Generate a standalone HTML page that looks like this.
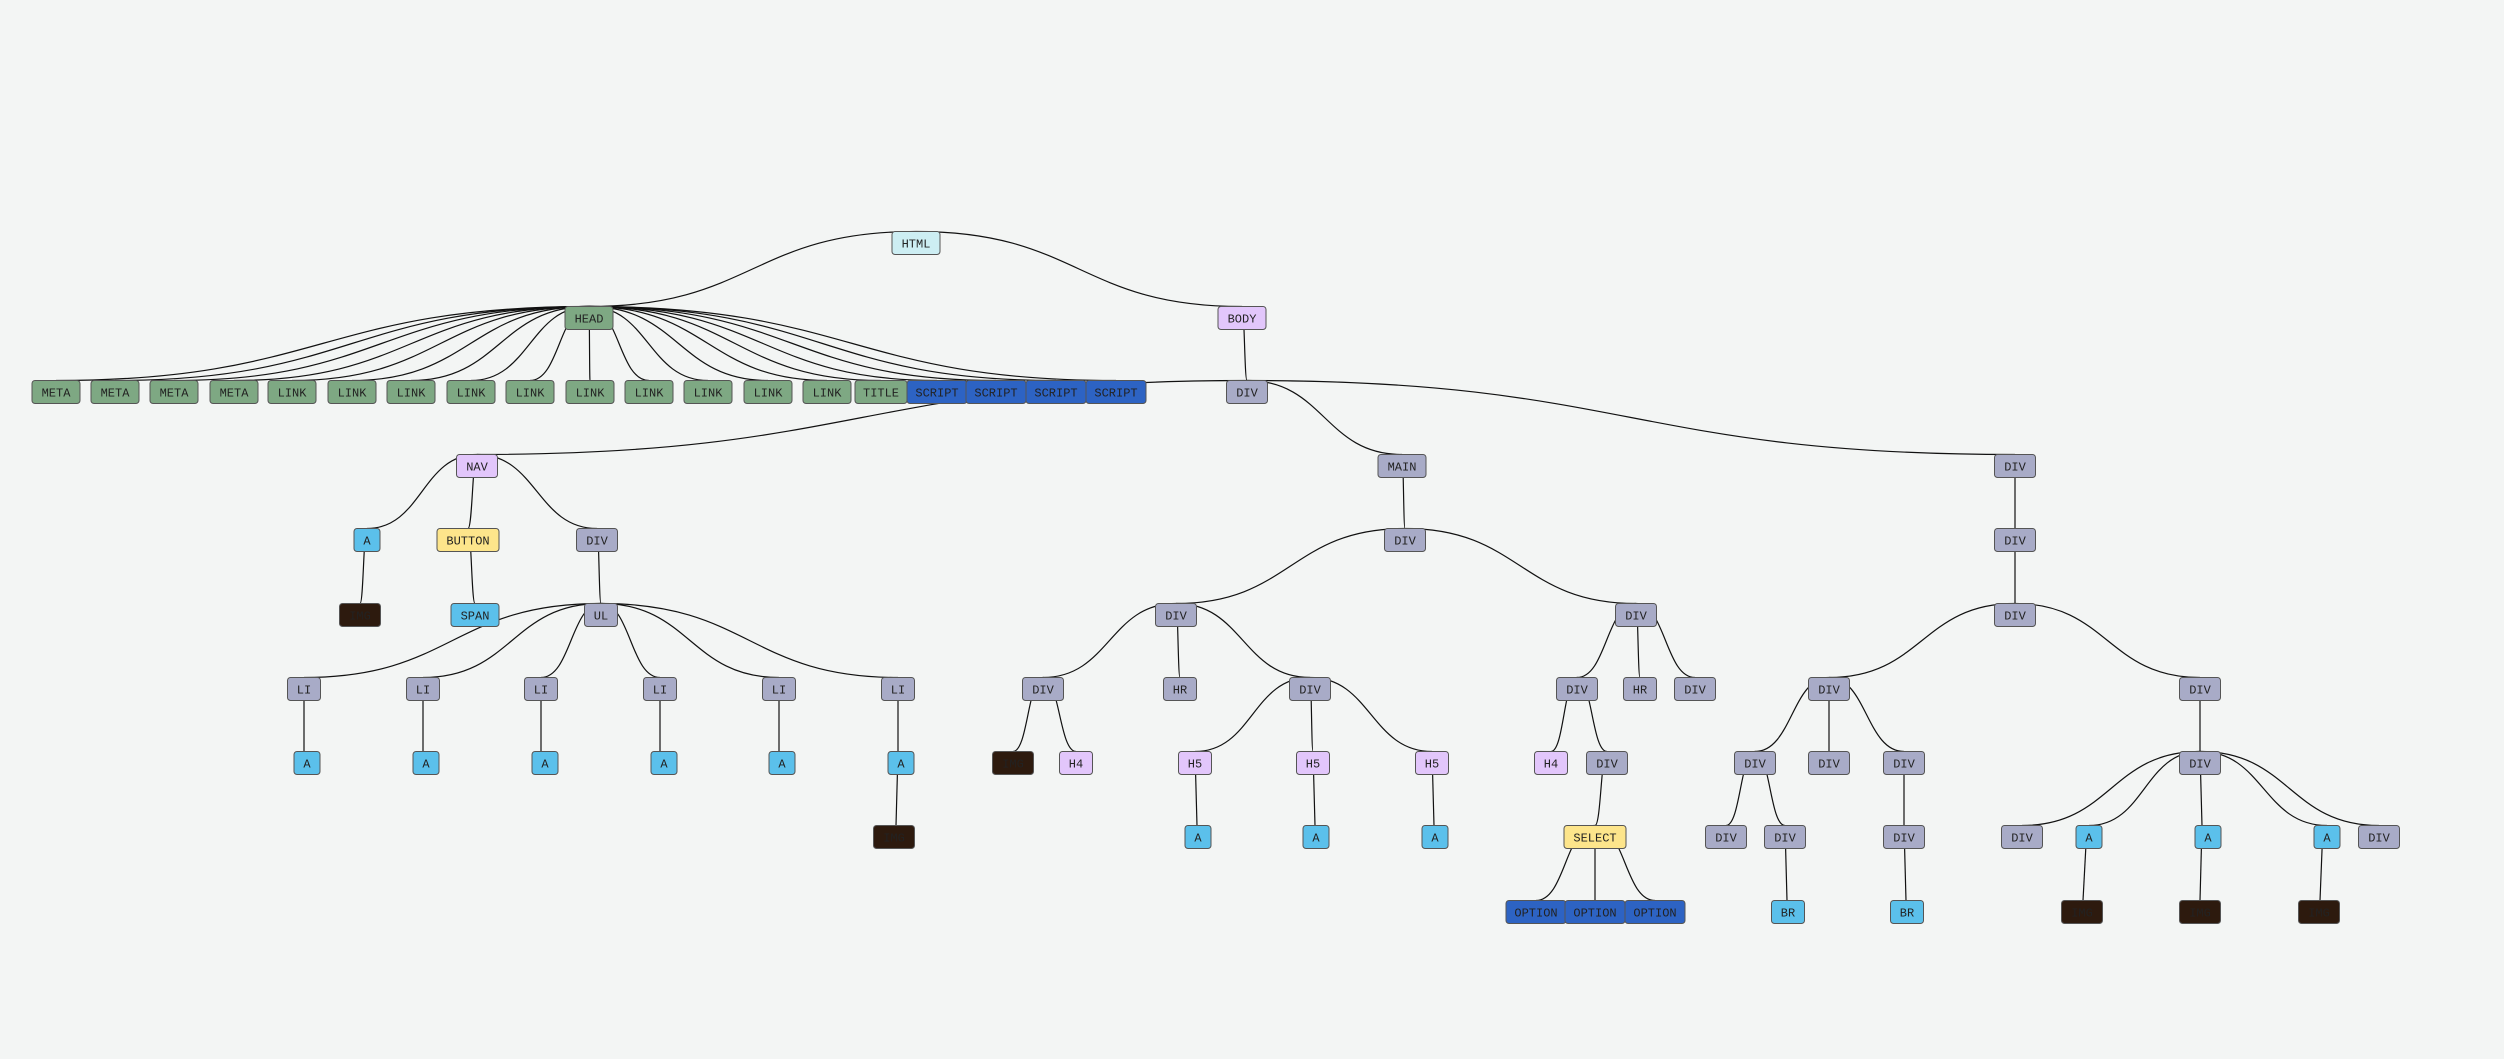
<!DOCTYPE html>
<html><head><meta charset="utf-8"><style>
html,body{margin:0;padding:0;background:#f3f5f4;}
svg{display:block;}
text{font-family:"Liberation Mono","DejaVu Sans Mono",monospace;font-size:12px;fill:#222;text-anchor:middle;}
rect{stroke:#555;stroke-width:1;}
.e path{fill:none;stroke:#111;stroke-width:1.2;}
.g rect{fill:#7ea883}.b rect{fill:#2d63c3}.y rect{fill:#a8abc7}.l rect{fill:#5bc0eb}.p rect{fill:#e2c6fb}.w rect{fill:#fde58b}.d rect{fill:#2d1a0e}.h rect{fill:#cdeef3}
</style></head><body>
<svg width="2504" height="1059" viewBox="0 0 2504 1059" xmlns="http://www.w3.org/2000/svg">
<g class="e">
<path d="M916 231.5C752.5 231.5 752.5 306.5 589 306.5"/>
<path d="M916 231.5C1079 231.5 1079 306.5 1242 306.5"/>
<path d="M589 306.5C322.5 306.5 322.5 380.5 56 380.5"/>
<path d="M589 306.5C352 306.5 352 380.5 115 380.5"/>
<path d="M589 306.5C381.5 306.5 381.5 380.5 174 380.5"/>
<path d="M589 306.5C411.5 306.5 411.5 380.5 234 380.5"/>
<path d="M589 306.5C440.5 306.5 440.5 380.5 292 380.5"/>
<path d="M589 306.5C470.5 306.5 470.5 380.5 352 380.5"/>
<path d="M589 306.5C500 306.5 500 380.5 411 380.5"/>
<path d="M589 306.5C530 306.5 530 380.5 471 380.5"/>
<path d="M589 306.5C559.5 306.5 559.5 380.5 530 380.5"/>
<path d="M589 306.5C589.5 306.5 589.5 380.5 590 380.5"/>
<path d="M589 306.5C619 306.5 619 380.5 649 380.5"/>
<path d="M589 306.5C648.5 306.5 648.5 380.5 708 380.5"/>
<path d="M589 306.5C678.5 306.5 678.5 380.5 768 380.5"/>
<path d="M589 306.5C708 306.5 708 380.5 827 380.5"/>
<path d="M589 306.5C735 306.5 735 380.5 881 380.5"/>
<path d="M589 306.5C763 306.5 763 380.5 937 380.5"/>
<path d="M589 306.5C792.5 306.5 792.5 380.5 996 380.5"/>
<path d="M589 306.5C822.5 306.5 822.5 380.5 1056 380.5"/>
<path d="M589 306.5C852.5 306.5 852.5 380.5 1116 380.5"/>
<path d="M1242 306.5C1244.5 306.5 1244.5 380.5 1247 380.5"/>
<path d="M1247 380.5C862 380.5 862 454.5 477 454.5"/>
<path d="M1247 380.5C1324.5 380.5 1324.5 454.5 1402 454.5"/>
<path d="M1247 380.5C1631 380.5 1631 454.5 2015 454.5"/>
<path d="M477 454.5C422 454.5 422 528.5 367 528.5"/>
<path d="M477 454.5C472.5 454.5 472.5 528.5 468 528.5"/>
<path d="M477 454.5C537 454.5 537 528.5 597 528.5"/>
<path d="M367 528.5C363.5 528.5 363.5 603.5 360 603.5"/>
<path d="M468 528.5C471.5 528.5 471.5 603.5 475 603.5"/>
<path d="M597 528.5C599 528.5 599 603.5 601 603.5"/>
<path d="M1402 454.5C1403.5 454.5 1403.5 528.5 1405 528.5"/>
<path d="M2015 454.5L2015 528.5"/>
<path d="M1405 528.5C1290.5 528.5 1290.5 603.5 1176 603.5"/>
<path d="M1405 528.5C1520.5 528.5 1520.5 603.5 1636 603.5"/>
<path d="M2015 528.5L2015 603.5"/>
<path d="M601 603.5C452.5 603.5 452.5 677.5 304 677.5"/>
<path d="M601 603.5C512 603.5 512 677.5 423 677.5"/>
<path d="M601 603.5C571 603.5 571 677.5 541 677.5"/>
<path d="M601 603.5C630.5 603.5 630.5 677.5 660 677.5"/>
<path d="M601 603.5C690 603.5 690 677.5 779 677.5"/>
<path d="M601 603.5C749.5 603.5 749.5 677.5 898 677.5"/>
<path d="M1176 603.5C1109.5 603.5 1109.5 677.5 1043 677.5"/>
<path d="M1176 603.5C1178 603.5 1178 677.5 1180 677.5"/>
<path d="M1176 603.5C1243 603.5 1243 677.5 1310 677.5"/>
<path d="M1636 603.5C1606.5 603.5 1606.5 677.5 1577 677.5"/>
<path d="M1636 603.5C1638 603.5 1638 677.5 1640 677.5"/>
<path d="M1636 603.5C1665.5 603.5 1665.5 677.5 1695 677.5"/>
<path d="M2015 603.5C1922 603.5 1922 677.5 1829 677.5"/>
<path d="M2015 603.5C2107.5 603.5 2107.5 677.5 2200 677.5"/>
<path d="M304 677.5L304 751.5"/>
<path d="M423 677.5L423 751.5"/>
<path d="M541 677.5L541 751.5"/>
<path d="M660 677.5L660 751.5"/>
<path d="M779 677.5L779 751.5"/>
<path d="M898 677.5L898 751.5"/>
<path d="M1043 677.5C1028 677.5 1028 751.5 1013 751.5"/>
<path d="M1043 677.5C1059.5 677.5 1059.5 751.5 1076 751.5"/>
<path d="M1310 677.5C1252.5 677.5 1252.5 751.5 1195 751.5"/>
<path d="M1310 677.5C1311.5 677.5 1311.5 751.5 1313 751.5"/>
<path d="M1310 677.5C1371 677.5 1371 751.5 1432 751.5"/>
<path d="M1577 677.5C1564 677.5 1564 751.5 1551 751.5"/>
<path d="M1577 677.5C1592 677.5 1592 751.5 1607 751.5"/>
<path d="M1829 677.5C1792 677.5 1792 751.5 1755 751.5"/>
<path d="M1829 677.5L1829 751.5"/>
<path d="M1829 677.5C1866.5 677.5 1866.5 751.5 1904 751.5"/>
<path d="M2200 677.5L2200 751.5"/>
<path d="M898 751.5L896 825.5"/>
<path d="M1195 751.5L1197 825.5"/>
<path d="M1313 751.5L1315 825.5"/>
<path d="M1432 751.5L1434 825.5"/>
<path d="M1607 751.5C1601 751.5 1601 825.5 1595 825.5"/>
<path d="M1755 751.5C1740.5 751.5 1740.5 825.5 1726 825.5"/>
<path d="M1755 751.5C1770 751.5 1770 825.5 1785 825.5"/>
<path d="M1904 751.5L1904 825.5"/>
<path d="M2200 751.5C2111 751.5 2111 825.5 2022 825.5"/>
<path d="M2200 751.5C2144.5 751.5 2144.5 825.5 2089 825.5"/>
<path d="M2200 751.5L2202 825.5"/>
<path d="M2200 751.5C2263.5 751.5 2263.5 825.5 2327 825.5"/>
<path d="M2200 751.5C2289.5 751.5 2289.5 825.5 2379 825.5"/>
<path d="M1595 825.5C1565.5 825.5 1565.5 900.5 1536 900.5"/>
<path d="M1595 825.5L1595 900.5"/>
<path d="M1595 825.5C1625 825.5 1625 900.5 1655 900.5"/>
<path d="M1785 825.5L1787 900.5"/>
<path d="M1904 825.5L1906 900.5"/>
<path d="M2087 825.5L2083 900.5"/>
<path d="M2202 825.5L2200 900.5"/>
<path d="M2323 825.5L2320 900.5"/>
</g>
<!-- row0/1 -->
<g class="h" transform="translate(916,231.5)"><rect x="-24" width="48" height="23" rx="3"/><text y="16">HTML</text></g>
<g class="g" transform="translate(589,306.5)"><rect x="-24" width="48" height="23" rx="3"/><text y="16">HEAD</text></g>
<g class="p" transform="translate(1242,306.5)"><rect x="-24" width="48" height="23" rx="3"/><text y="16">BODY</text></g>
<!-- row2 -->
<g class="g" transform="translate(56,380.5)"><rect x="-24" width="48" height="23" rx="3"/><text y="16">META</text></g>
<g class="g" transform="translate(115,380.5)"><rect x="-24" width="48" height="23" rx="3"/><text y="16">META</text></g>
<g class="g" transform="translate(174,380.5)"><rect x="-24" width="48" height="23" rx="3"/><text y="16">META</text></g>
<g class="g" transform="translate(234,380.5)"><rect x="-24" width="48" height="23" rx="3"/><text y="16">META</text></g>
<g class="g" transform="translate(292,380.5)"><rect x="-24" width="48" height="23" rx="3"/><text y="16">LINK</text></g>
<g class="g" transform="translate(352,380.5)"><rect x="-24" width="48" height="23" rx="3"/><text y="16">LINK</text></g>
<g class="g" transform="translate(411,380.5)"><rect x="-24" width="48" height="23" rx="3"/><text y="16">LINK</text></g>
<g class="g" transform="translate(471,380.5)"><rect x="-24" width="48" height="23" rx="3"/><text y="16">LINK</text></g>
<g class="g" transform="translate(530,380.5)"><rect x="-24" width="48" height="23" rx="3"/><text y="16">LINK</text></g>
<g class="g" transform="translate(590,380.5)"><rect x="-24" width="48" height="23" rx="3"/><text y="16">LINK</text></g>
<g class="g" transform="translate(649,380.5)"><rect x="-24" width="48" height="23" rx="3"/><text y="16">LINK</text></g>
<g class="g" transform="translate(708,380.5)"><rect x="-24" width="48" height="23" rx="3"/><text y="16">LINK</text></g>
<g class="g" transform="translate(768,380.5)"><rect x="-24" width="48" height="23" rx="3"/><text y="16">LINK</text></g>
<g class="g" transform="translate(827,380.5)"><rect x="-24" width="48" height="23" rx="3"/><text y="16">LINK</text></g>
<g class="g" transform="translate(881,380.5)"><rect x="-26" width="52" height="23" rx="3"/><text y="16">TITLE</text></g>
<g class="b" transform="translate(937,380.5)"><rect x="-30" width="60" height="23" rx="3"/><text y="16">SCRIPT</text></g>
<g class="b" transform="translate(996,380.5)"><rect x="-30" width="60" height="23" rx="3"/><text y="16">SCRIPT</text></g>
<g class="b" transform="translate(1056,380.5)"><rect x="-30" width="60" height="23" rx="3"/><text y="16">SCRIPT</text></g>
<g class="b" transform="translate(1116,380.5)"><rect x="-30" width="60" height="23" rx="3"/><text y="16">SCRIPT</text></g>
<g class="y" transform="translate(1247,380.5)"><rect x="-20.5" width="41" height="23" rx="3"/><text y="16">DIV</text></g>
<!-- row3 -->
<g class="p" transform="translate(477,454.5)"><rect x="-20.5" width="41" height="23" rx="3"/><text y="16">NAV</text></g>
<g class="y" transform="translate(1402,454.5)"><rect x="-24" width="48" height="23" rx="3"/><text y="16">MAIN</text></g>
<g class="y" transform="translate(2015,454.5)"><rect x="-20.5" width="41" height="23" rx="3"/><text y="16">DIV</text></g>
<!-- row4 -->
<g class="l" transform="translate(367,528.5)"><rect x="-13" width="26" height="23" rx="3"/><text y="16">A</text></g>
<g class="w" transform="translate(468,528.5)"><rect x="-31" width="62" height="23" rx="3"/><text y="16">BUTTON</text></g>
<g class="y" transform="translate(597,528.5)"><rect x="-20.5" width="41" height="23" rx="3"/><text y="16">DIV</text></g>
<g class="y" transform="translate(1405,528.5)"><rect x="-20.5" width="41" height="23" rx="3"/><text y="16">DIV</text></g>
<g class="y" transform="translate(2015,528.5)"><rect x="-20.5" width="41" height="23" rx="3"/><text y="16">DIV</text></g>
<!-- row5 -->
<g class="d" transform="translate(360,603.5)"><rect x="-20.5" width="41" height="23" rx="3"/><text y="16">IMG</text></g>
<g class="l" transform="translate(475,603.5)"><rect x="-24" width="48" height="23" rx="3"/><text y="16">SPAN</text></g>
<g class="y" transform="translate(601,603.5)"><rect x="-16.5" width="33" height="23" rx="3"/><text y="16">UL</text></g>
<g class="y" transform="translate(1176,603.5)"><rect x="-20.5" width="41" height="23" rx="3"/><text y="16">DIV</text></g>
<g class="y" transform="translate(1636,603.5)"><rect x="-20.5" width="41" height="23" rx="3"/><text y="16">DIV</text></g>
<g class="y" transform="translate(2015,603.5)"><rect x="-20.5" width="41" height="23" rx="3"/><text y="16">DIV</text></g>
<!-- row6 -->
<g class="y" transform="translate(304,677.5)"><rect x="-16.5" width="33" height="23" rx="3"/><text y="16">LI</text></g>
<g class="y" transform="translate(423,677.5)"><rect x="-16.5" width="33" height="23" rx="3"/><text y="16">LI</text></g>
<g class="y" transform="translate(541,677.5)"><rect x="-16.5" width="33" height="23" rx="3"/><text y="16">LI</text></g>
<g class="y" transform="translate(660,677.5)"><rect x="-16.5" width="33" height="23" rx="3"/><text y="16">LI</text></g>
<g class="y" transform="translate(779,677.5)"><rect x="-16.5" width="33" height="23" rx="3"/><text y="16">LI</text></g>
<g class="y" transform="translate(898,677.5)"><rect x="-16.5" width="33" height="23" rx="3"/><text y="16">LI</text></g>
<g class="y" transform="translate(1043,677.5)"><rect x="-20.5" width="41" height="23" rx="3"/><text y="16">DIV</text></g>
<g class="y" transform="translate(1180,677.5)"><rect x="-16.5" width="33" height="23" rx="3"/><text y="16">HR</text></g>
<g class="y" transform="translate(1310,677.5)"><rect x="-20.5" width="41" height="23" rx="3"/><text y="16">DIV</text></g>
<g class="y" transform="translate(1577,677.5)"><rect x="-20.5" width="41" height="23" rx="3"/><text y="16">DIV</text></g>
<g class="y" transform="translate(1640,677.5)"><rect x="-16.5" width="33" height="23" rx="3"/><text y="16">HR</text></g>
<g class="y" transform="translate(1695,677.5)"><rect x="-20.5" width="41" height="23" rx="3"/><text y="16">DIV</text></g>
<g class="y" transform="translate(1829,677.5)"><rect x="-20.5" width="41" height="23" rx="3"/><text y="16">DIV</text></g>
<g class="y" transform="translate(2200,677.5)"><rect x="-20.5" width="41" height="23" rx="3"/><text y="16">DIV</text></g>
<!-- row7 -->
<g class="l" transform="translate(307,751.5)"><rect x="-13" width="26" height="23" rx="3"/><text y="16">A</text></g>
<g class="l" transform="translate(426,751.5)"><rect x="-13" width="26" height="23" rx="3"/><text y="16">A</text></g>
<g class="l" transform="translate(545,751.5)"><rect x="-13" width="26" height="23" rx="3"/><text y="16">A</text></g>
<g class="l" transform="translate(664,751.5)"><rect x="-13" width="26" height="23" rx="3"/><text y="16">A</text></g>
<g class="l" transform="translate(782,751.5)"><rect x="-13" width="26" height="23" rx="3"/><text y="16">A</text></g>
<g class="l" transform="translate(901,751.5)"><rect x="-13" width="26" height="23" rx="3"/><text y="16">A</text></g>
<g class="d" transform="translate(1013,751.5)"><rect x="-20.5" width="41" height="23" rx="3"/><text y="16">IMG</text></g>
<g class="p" transform="translate(1076,751.5)"><rect x="-16.5" width="33" height="23" rx="3"/><text y="16">H4</text></g>
<g class="p" transform="translate(1195,751.5)"><rect x="-16.5" width="33" height="23" rx="3"/><text y="16">H5</text></g>
<g class="p" transform="translate(1313,751.5)"><rect x="-16.5" width="33" height="23" rx="3"/><text y="16">H5</text></g>
<g class="p" transform="translate(1432,751.5)"><rect x="-16.5" width="33" height="23" rx="3"/><text y="16">H5</text></g>
<g class="p" transform="translate(1551,751.5)"><rect x="-16.5" width="33" height="23" rx="3"/><text y="16">H4</text></g>
<g class="y" transform="translate(1607,751.5)"><rect x="-20.5" width="41" height="23" rx="3"/><text y="16">DIV</text></g>
<g class="y" transform="translate(1755,751.5)"><rect x="-20.5" width="41" height="23" rx="3"/><text y="16">DIV</text></g>
<g class="y" transform="translate(1829,751.5)"><rect x="-20.5" width="41" height="23" rx="3"/><text y="16">DIV</text></g>
<g class="y" transform="translate(1904,751.5)"><rect x="-20.5" width="41" height="23" rx="3"/><text y="16">DIV</text></g>
<g class="y" transform="translate(2200,751.5)"><rect x="-20.5" width="41" height="23" rx="3"/><text y="16">DIV</text></g>
<!-- row8 -->
<g class="d" transform="translate(894,825.5)"><rect x="-20.5" width="41" height="23" rx="3"/><text y="16">IMG</text></g>
<g class="l" transform="translate(1198,825.5)"><rect x="-13" width="26" height="23" rx="3"/><text y="16">A</text></g>
<g class="l" transform="translate(1316,825.5)"><rect x="-13" width="26" height="23" rx="3"/><text y="16">A</text></g>
<g class="l" transform="translate(1435,825.5)"><rect x="-13" width="26" height="23" rx="3"/><text y="16">A</text></g>
<g class="w" transform="translate(1595,825.5)"><rect x="-31" width="62" height="23" rx="3"/><text y="16">SELECT</text></g>
<g class="y" transform="translate(1726,825.5)"><rect x="-20.5" width="41" height="23" rx="3"/><text y="16">DIV</text></g>
<g class="y" transform="translate(1785,825.5)"><rect x="-20.5" width="41" height="23" rx="3"/><text y="16">DIV</text></g>
<g class="y" transform="translate(1904,825.5)"><rect x="-20.5" width="41" height="23" rx="3"/><text y="16">DIV</text></g>
<g class="y" transform="translate(2022,825.5)"><rect x="-20.5" width="41" height="23" rx="3"/><text y="16">DIV</text></g>
<g class="l" transform="translate(2089,825.5)"><rect x="-13" width="26" height="23" rx="3"/><text y="16">A</text></g>
<g class="l" transform="translate(2208,825.5)"><rect x="-13" width="26" height="23" rx="3"/><text y="16">A</text></g>
<g class="l" transform="translate(2327,825.5)"><rect x="-13" width="26" height="23" rx="3"/><text y="16">A</text></g>
<g class="y" transform="translate(2379,825.5)"><rect x="-20.5" width="41" height="23" rx="3"/><text y="16">DIV</text></g>
<!-- row9 -->
<g class="b" transform="translate(1536,900.5)"><rect x="-30" width="60" height="23" rx="3"/><text y="16">OPTION</text></g>
<g class="b" transform="translate(1595,900.5)"><rect x="-30" width="60" height="23" rx="3"/><text y="16">OPTION</text></g>
<g class="b" transform="translate(1655,900.5)"><rect x="-30" width="60" height="23" rx="3"/><text y="16">OPTION</text></g>
<g class="l" transform="translate(1788,900.5)"><rect x="-16.5" width="33" height="23" rx="3"/><text y="16">BR</text></g>
<g class="l" transform="translate(1907,900.5)"><rect x="-16.5" width="33" height="23" rx="3"/><text y="16">BR</text></g>
<g class="d" transform="translate(2082,900.5)"><rect x="-20.5" width="41" height="23" rx="3"/><text y="16">IMG</text></g>
<g class="d" transform="translate(2200,900.5)"><rect x="-20.5" width="41" height="23" rx="3"/><text y="16">IMG</text></g>
<g class="d" transform="translate(2319,900.5)"><rect x="-20.5" width="41" height="23" rx="3"/><text y="16">IMG</text></g>
</svg>
</body></html>
